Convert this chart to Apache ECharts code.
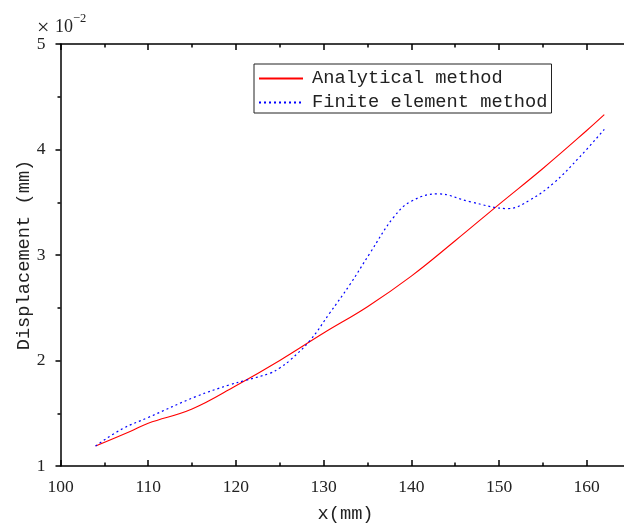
<!DOCTYPE html>
<html>
<head>
<meta charset="utf-8">
<script src="https://cdn.jsdelivr.net/npm/echarts@6/dist/echarts.min.js"></script>
<style>html,body{margin:0;padding:0;background:#fff}#c{width:624px;height:523px}</style>
</head>
<body>
<div id="c"></div>
<script>
const analyticalX = [104, 108, 110, 115, 120, 125, 130, 135, 140, 145, 150, 155, 160, 162];
const analyticalY = [1.19, 1.33, 1.405, 1.54, 1.76, 2.0, 2.26, 2.51, 2.80, 3.135, 3.48, 3.82, 4.18, 4.33];
const femX = [104, 107, 110, 115.5, 119.3, 121, 123.9, 125, 126.2, 128.45, 130.7, 133, 135.3, 138, 140, 143, 146.7, 151, 153.5, 156.2, 159.2, 162];
const femY = [1.19, 1.35, 1.46, 1.66, 1.77, 1.81, 1.88, 1.93, 2.005, 2.19, 2.45, 2.72, 3.02, 3.36, 3.51, 3.58, 3.505, 3.44, 3.52, 3.68, 3.93, 4.19];
const seriesNames = ['Analytical method', 'Finite element method'];
const xTicks = [100, 110, 120, 130, 140, 150, 160];
const yTicks = [1, 2, 3, 4, 5];

const serif = 'Liberation Serif';
const mono = 'Liberation Mono';
const chart = echarts.init(document.getElementById('c'), null, {renderer: 'canvas'});
const zip = (xs, ys) => xs.map((x, i) => [x, ys[i]]);
const tickLine = {color: '#000', width: 1.5};
chart.setOption({
  animation: false,
  backgroundColor: '#fff',
  grid: {left: 60.5, top: 44, width: 570.1, height: 422, containLabel: false, outerBoundsMode: 'none'},
  legend: {
    orient: 'vertical', left: 254, top: 64, width: 297, height: 50,
    padding: [5, 4, 1, 4], itemGap: 5, itemWidth: 44, itemHeight: 20,
    borderColor: '#222', borderWidth: 1, backgroundColor: '#fff',
    itemStyle: {color: 'rgba(0,0,0,0)', borderWidth: 0, opacity: 0},
    textStyle: {fontFamily: mono, fontSize: 18.7, color: '#222', padding: [0, 0, 0, 4]},
    data: seriesNames
  },
  xAxis: [{
    type: 'value', min: 100, max: 165, interval: 10,
    name: 'x(mm)', nameLocation: 'middle', nameGap: 39,
    nameTextStyle: {fontFamily: mono, fontSize: 18.7, color: '#222'},
    axisLine: {lineStyle: tickLine},
    axisTick: {inside: true, length: 6, lineStyle: tickLine},
    minorTick: {show: true, splitNumber: 2, length: 3.5, lineStyle: tickLine},
    axisLabel: {fontFamily: serif, fontSize: 17.5, color: '#222', margin: 12,
      formatter: v => xTicks.includes(v) ? String(v) : ''},
    splitLine: {show: false}
  }, {
    type: 'value', position: 'top', min: 100, max: 165, interval: 10,
    axisLine: {lineStyle: tickLine},
    axisTick: {inside: true, length: 6, lineStyle: tickLine},
    minorTick: {show: true, splitNumber: 2, length: 3.5, lineStyle: tickLine},
    axisLabel: {show: false}, splitLine: {show: false}
  }],
  yAxis: {
    type: 'value', min: 1, max: 5, interval: 1,
    name: 'Displacement (mm)', nameLocation: 'middle', nameGap: 27, nameRotate: 90,
    nameMoveOverlap: false,
    nameTextStyle: {fontFamily: mono, fontSize: 18.7, color: '#222'},
    axisLine: {lineStyle: tickLine},
    axisTick: {inside: false, length: 5, lineStyle: tickLine},
    minorTick: {show: true, splitNumber: 2, length: 3, lineStyle: tickLine},
    axisLabel: {fontFamily: serif, fontSize: 17.5, color: '#222', margin: 15,
      formatter: v => yTicks.includes(v) ? String(v) : ''},
    splitLine: {show: false}
  },
  graphic: [
    {type: 'text', left: 37, top: 17, style: {text: '×', font: '22px "Liberation Serif"', fill: '#222'}},
    {type: 'text', left: 55, top: 18, style: {text: '10', font: '18px "Liberation Serif"', fill: '#222'}},
    {type: 'text', left: 73, top: 12, style: {text: '−2', font: '12.5px "Liberation Serif"', fill: '#222'}}
  ],
  series: [{
    name: seriesNames[0], type: 'line', smooth: 0.4, symbol: 'none',
    lineStyle: {color: '#ff0000', width: 1.1},
    itemStyle: {color: '#ff0000'},
    data: zip(analyticalX, analyticalY)
  }, {
    name: seriesNames[1], type: 'line', smooth: 0.4, symbol: 'none',
    lineStyle: {color: '#0000ff', width: 1.2, type: [2, 3]},
    itemStyle: {color: '#0000ff'},
    data: zip(femX, femY)
  }]
});
</script>
</body>
</html>
